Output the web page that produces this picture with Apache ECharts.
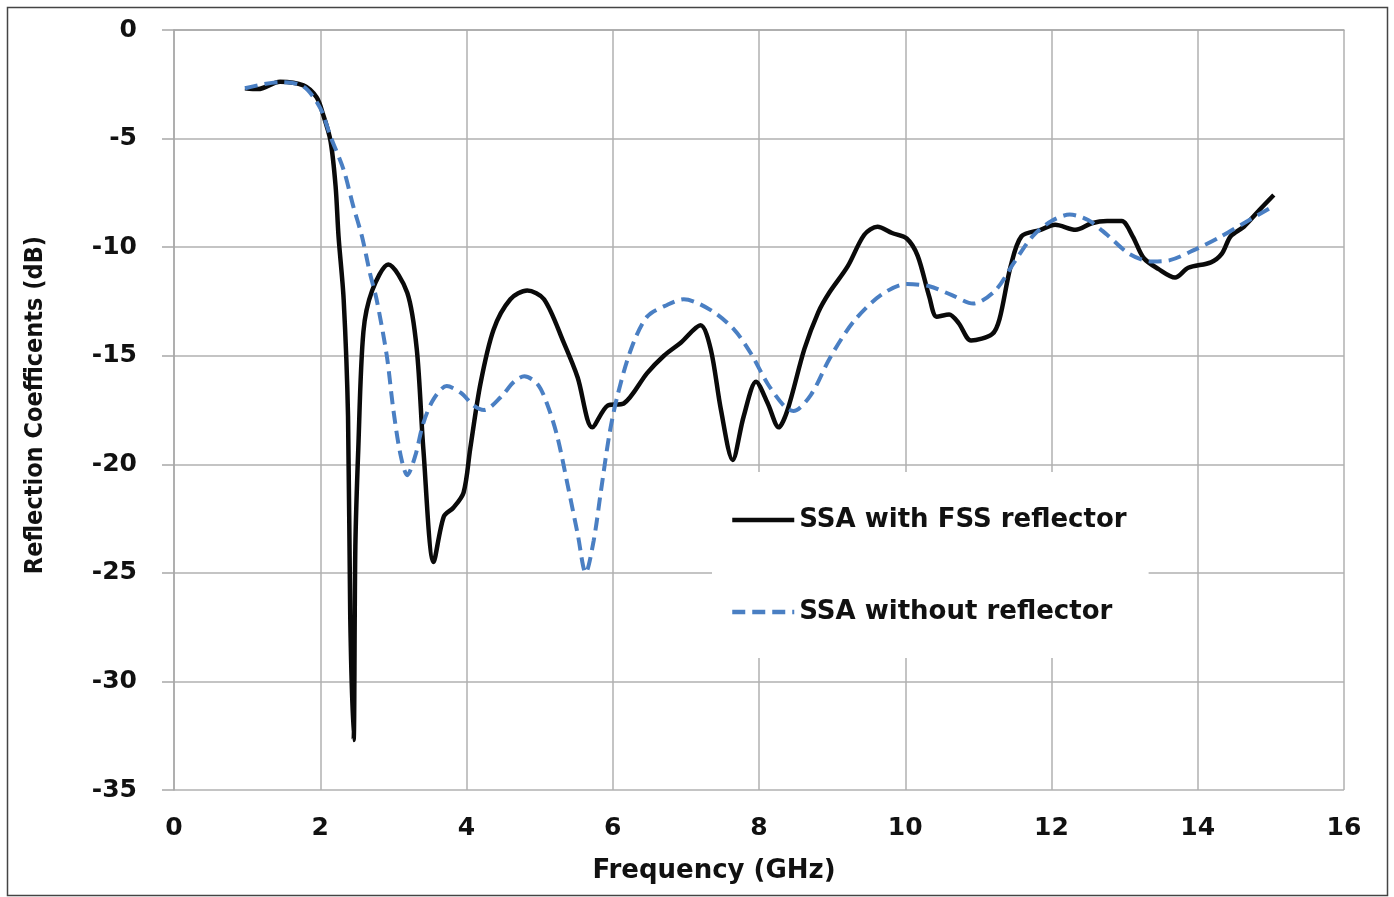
<!DOCTYPE html>
<html>
  <head>
    <meta charset="utf-8" />
    <title>Reflection Coefficients</title>
    <script src="https://cdn.jsdelivr.net/npm/echarts@6.0.0/dist/echarts.min.js"></script>
    <style>
      html, body { margin: 0; padding: 0; background: #fff; }
    </style>
  </head>
  <body>
    <div id="main" style="width: 1394px;height:897px;"></div>
    <script type="text/javascript">
// SSA with FSS reflector (black solid)
const fssFreq = [0.97, 1.15, 1.45, 1.77, 1.95, 2.04, 2.14, 2.21, 2.25, 2.32, 2.38, 2.41, 2.456, 2.48, 2.52, 2.59, 2.71, 2.93,
  3.19, 3.32, 3.41, 3.55, 3.69, 3.82, 3.96, 4.05, 4.19, 4.37, 4.6, 4.83, 5.06, 5.33, 5.52, 5.72, 5.93, 6.15, 6.47, 6.7,
  6.93, 7.2, 7.34, 7.48, 7.64, 7.79, 7.96, 8.12, 8.27, 8.39, 8.62, 8.81, 8.96, 9.21, 9.44, 9.62, 9.82, 10.02, 10.17,
  10.33, 10.43, 10.6, 10.73, 10.9, 11.19, 11.29, 11.44, 11.59, 11.85, 12.05, 12.33, 12.55, 12.76, 12.96, 13.11, 13.26,
  13.46, 13.69, 13.87, 14.18, 14.33, 14.45, 14.63, 14.84, 15.04];
const fssDb = [-2.68, -2.72, -2.38, -2.55, -3.1, -3.9, -5.1, -7.2, -9.5, -12.4, -17.8, -27.0, -32.7, -23.8, -19.3, -13.9, -12.0, -10.8,
  -12.1, -14.7, -19.3, -24.5, -22.4, -22.0, -21.3, -19.3, -16.3, -13.8, -12.4, -12.0, -12.4, -14.4, -16.0, -18.3, -17.3, -17.2, -15.8, -15.0,
  -14.4, -13.6, -14.7, -17.5, -19.8, -17.8, -16.2, -17.2, -18.3, -17.5, -14.7, -13.0, -12.1, -10.9, -9.43, -9.06, -9.35, -9.6, -10.4,
  -12.3, -13.2, -13.1, -13.5, -14.3, -14.0, -13.3, -10.9, -9.5, -9.2, -8.97, -9.2, -8.9, -8.8, -8.8, -9.5, -10.5,
  -11.0, -11.4, -10.95, -10.7, -10.3, -9.5, -9.06, -8.3, -7.6];

// SSA without reflector (blue dashed)
const noRefFreq = [0.97, 1.45, 1.77, 2.0, 2.14, 2.32, 2.45, 2.57, 2.68, 2.77, 2.91, 3.0, 3.1, 3.19, 3.3, 3.41, 3.55, 3.73, 3.92,
  4.1, 4.24, 4.47, 4.65, 4.79, 4.97, 5.1, 5.24, 5.38, 5.52, 5.63, 5.74, 5.84, 5.95, 6.06, 6.25, 6.47, 6.75, 6.97, 7.34,
  7.66, 7.89, 8.12, 8.34, 8.47, 8.71, 8.97, 9.3, 9.67, 10.02, 10.33, 10.63, 10.93, 11.23, 11.49, 11.74, 12.0, 12.25,
  12.5, 12.76, 13.06, 13.37, 13.62, 13.97, 14.27, 14.63, 14.99];
const noRefDb = [-2.68, -2.4, -2.6, -3.6, -4.9, -6.44, -8.1, -9.5, -11.2, -12.4, -15.0, -17.5, -19.6, -20.5, -19.6, -18.1, -17.0, -16.4, -16.7,
  -17.3, -17.5, -16.9, -16.2, -15.95, -16.3, -17.2, -18.7, -20.9, -23.2, -25.0, -23.5, -21.2, -18.7, -16.9, -14.7, -13.2, -12.65, -12.4, -12.9,
  -13.8, -14.9, -16.3, -17.3, -17.55, -16.8, -15.1, -13.4, -12.2, -11.7, -11.8, -12.2, -12.6, -12.0, -10.7, -9.5, -8.8, -8.5,
  -8.75, -9.43, -10.3, -10.66, -10.6, -10.1, -9.6, -8.9, -8.2];

const seriesNames = ['SSA with FSS reflector', 'SSA without reflector'];

function pairs(xs, ys) {
  return xs.map(function (x, i) { return [x, ys[i]]; });
}

var chartDom = document.getElementById('main');
var myChart = echarts.init(chartDom);
var wideFont = '"DejaVu Sans", Verdana, sans-serif';

var option = {
  backgroundColor: '#fff',
  animation: false,
  graphic: [
    {
      type: 'rect',
      shape: { x: 7.5, y: 7.5, width: 1380, height: 888 },
      style: { fill: 'none', stroke: '#444', lineWidth: 1.5 },
      z: 0
    }
  ],
  grid: {
    left: 174,
    right: 50,
    top: 30,
    bottom: 107,
    containLabel: false
  },
  legend: {
    orient: 'vertical',
    left: 712,
    top: 472,
    backgroundColor: '#fff',
    padding: [33, 22, 31, 18],
    itemGap: 62,
    itemWidth: 62,
    itemHeight: 14,
    itemStyle: { opacity: 0 },
    lineStyle: { width: 4.5 },
    data: seriesNames,
    textStyle: {
      fontFamily: wideFont,
      fontWeight: 'bold',
      fontSize: 26,
      lineHeight: 30,
      color: '#111'
    },
    z: 10
  },
  xAxis: {
    type: 'value',
    min: 0,
    max: 16,
    interval: 2,
    name: 'Frequency (GHz)',
    nameLocation: 'middle',
    nameGap: 68,
    nameTextStyle: {
      fontFamily: wideFont,
      fontWeight: 'bold',
      fontSize: 26,
      color: '#111',
      padding: [0, 90, 0, 0]
    },
    axisLine: { show: true, lineStyle: { color: '#a8a8a8', width: 1.5 } },
    axisTick: { show: false },
    axisLabel: {
      margin: 26,
      fontFamily: wideFont,
      fontWeight: 'bold',
      fontSize: 25,
      color: '#111'
    },
    splitLine: { show: true, lineStyle: { color: '#b0b0b0', width: 1.5 } }
  },
  yAxis: {
    type: 'value',
    min: -35,
    max: 0,
    interval: 5,
    name: 'Reflection Coefficents (dB)',
    nameLocation: 'middle',
    nameGap: 126,
    nameRotate: 90,
    nameTextStyle: {
      fontFamily: '"Liberation Sans Narrow", "DejaVu Sans Condensed", sans-serif',
      fontWeight: 'bold',
      fontSize: 25,
      color: '#111',
      padding: [0, 0, 0, 10]
    },
    axisLine: { show: true, lineStyle: { color: '#a8a8a8', width: 1.5 } },
    axisTick: { show: true, inside: false, length: 12, lineStyle: { color: '#a8a8a8', width: 1.5 } },
    axisLabel: {
      margin: 37,
      fontFamily: wideFont,
      fontWeight: 'bold',
      fontSize: 25,
      color: '#111'
    },
    splitLine: { show: true, lineStyle: { color: '#b0b0b0', width: 1.5 } }
  },
  series: [
    {
      name: seriesNames[0],
      type: 'line',
      data: pairs(fssFreq, fssDb),
      smooth: 0.3,
      showSymbol: false,
      symbol: 'none',
      lineStyle: { color: '#0a0a0a', width: 4.5 },
      itemStyle: { color: '#0a0a0a' },
      z: 3
    },
    {
      name: seriesNames[1],
      type: 'line',
      data: pairs(noRefFreq, noRefDb),
      smooth: 0.3,
      showSymbol: false,
      symbol: 'none',
      lineStyle: { color: '#4a7fc3', width: 4, type: [13, 7] },
      itemStyle: { color: '#4a7fc3' },
      z: 4
    }
  ]
};

option && myChart.setOption(option);
    </script>
  </body>
</html>
